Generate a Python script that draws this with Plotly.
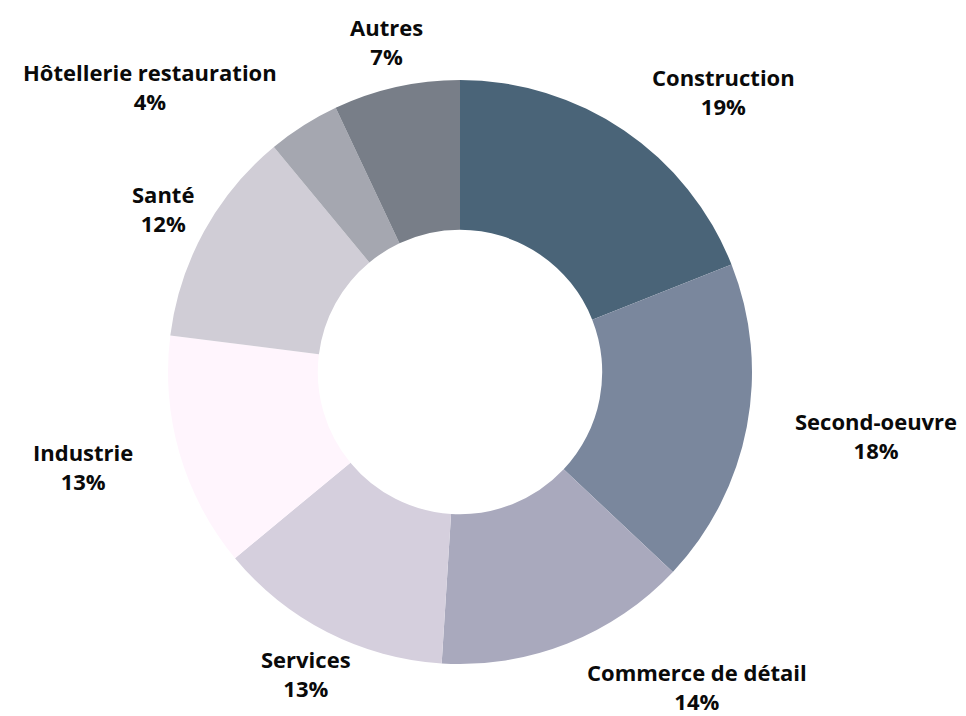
import math
import plotly.graph_objects as go

labels = ["Construction", "Second-oeuvre", "Commerce de détail", "Services",
          "Industrie", "Santé", "Hôtellerie restauration", "Autres"]
values = [19, 18, 14, 13, 13, 12, 4, 7]
colors = ["#4a6478", "#7a879d", "#a9a9bd", "#d5cfdd",
          "#fff5fd", "#d0cdd6", "#a5a7b0", "#787e88"]
label_anchor = ["left", "left", "left", "center", "right", "center", "right", "center"]

W, H = 958, 708
ml, mt = 160, 72
side = 584
mr = W - ml - side
mb = H - mt - side
R = side / 2
label_r = R * 1.16

fig = go.Figure(go.Pie(
    labels=labels, values=values, hole=0.487, sort=False, direction="clockwise",
    rotation=0, marker=dict(colors=colors, line=dict(width=0)),
    textinfo="none", hoverinfo="label+percent", showlegend=False,
))

total = sum(values)
cum = 0
annotations = []
for lab, v, anc in zip(labels, values, label_anchor):
    mid = (cum + v / 2) / total * 2 * math.pi
    cum += v
    dx = label_r * math.sin(mid)
    dy = label_r * math.cos(mid)
    px = 0.5 + dx / side
    py = 0.5 + dy / side
    pct = round(v / total * 100)
    annotations.append(dict(
        x=px, y=py, xref="paper", yref="paper", xanchor=anc, yanchor="middle",
        text=f"<b>{lab}</b><br><b>{pct}%</b>", showarrow=False, align="center",
        font=dict(family="Open Sans", size=22, color="#0a0a0a"),
    ))

fig.update_layout(
    width=W, height=H, margin=dict(l=ml, r=mr, t=mt, b=mb),
    paper_bgcolor="white", plot_bgcolor="white", annotations=annotations,
)
fig.write_html("out.html")
